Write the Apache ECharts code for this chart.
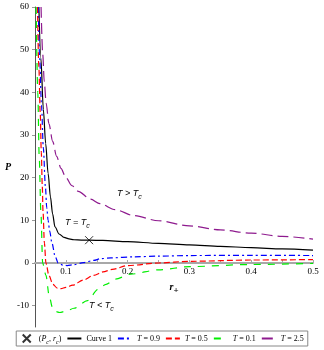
<!DOCTYPE html>
<html>

<head>
    <meta charset="utf-8"/>
    <style>
        html, body {
            height: 100%;
            margin: 0;
            padding: 0;
            background: #ffffff;
        }

        .container {
            width: 324px;
            height: 350px;
        }
    </style>
</head>

<body>
<div id="main" class="container"></div>

<script src="https://cdn.jsdelivr.net/npm/echarts@6/dist/echarts.min.js"></script>
<script type="text/javascript">
    // 刻度
    var xTicks = [0.1, 0.2, 0.3, 0.4, 0.5];
    var xTickMarks = [0.1, 0.15, 0.2, 0.25, 0.3, 0.35, 0.4, 0.45, 0.5];
    var yTicks = [-10, 0, 10, 20, 30, 40, 50, 60];

    // 临界点 (r_c, P_c)
    var critical = [[0.1376, 5.35]];

    // T = Tc (Curve 1)
    var curveTc = [[0.0563, 60], [0.0595, 48], [0.0635, 36], [0.0673, 28], [0.0712, 21], [0.0750, 15.5],
        [0.0785, 11.5], [0.0823, 8.5], [0.089, 6.8], [0.097, 6.0], [0.105, 5.65], [0.113, 5.45],
        [0.125, 5.38], [0.1376, 5.35], [0.16, 5.28], [0.2, 5.0], [0.25, 4.6], [0.3, 4.25],
        [0.35, 3.9], [0.4, 3.6], [0.45, 3.3], [0.5, 3.0]];

    // T = 0.9
    var curveT09 = [[0.0553, 60], [0.0575, 48], [0.0605, 37], [0.0635, 27], [0.0668, 18], [0.069, 13],
        [0.0712, 10], [0.0738, 7.5], [0.0774, 4.7], [0.0827, 1.5], [0.0875, 0], [0.095, -0.5],
        [0.102, -0.6], [0.113, -0.4], [0.128, 0.1], [0.145, 0.6], [0.156, 1.0], [0.173, 1.2],
        [0.21, 1.45], [0.25, 1.6], [0.3, 1.75], [0.4, 1.8], [0.5, 1.75]];

    // T = 0.5
    var curveT05 = [[0.054, 60], [0.0562, 46], [0.0585, 35], [0.0602, 26], [0.0618, 18], [0.063, 12],
        [0.0652, 4.7], [0.0677, 0], [0.0725, -2.9], [0.079, -5.0], [0.086, -5.9], [0.092, -6.0],
        [0.1, -5.7], [0.111, -5.2], [0.128, -4.0], [0.145, -2.9], [0.16, -2.1], [0.175, -1.5],
        [0.2, -0.6], [0.25, 0.0], [0.3, 0.4], [0.4, 0.7], [0.5, 0.8]];

    // T = 0.1
    var curveT01 = [[0.0518, 60], [0.0545, 40], [0.0568, 25], [0.0595, 12], [0.0624, 0], [0.0677, -2.9],
        [0.073, -7.7], [0.078, -10.3], [0.084, -11.4], [0.09, -11.6], [0.1, -11.3], [0.113, -10.6],
        [0.135, -8.8], [0.152, -6.2], [0.165, -5.0], [0.18, -3.8], [0.205, -2.6], [0.25, -1.6],
        [0.3, -0.85], [0.4, -0.35], [0.5, -0.1]];

    // T = 2.5
    var curveT25 = [[0.0598, 60], [0.0625, 49], [0.065, 42.5], [0.068, 37.5], [0.0725, 32.7], [0.0786, 28.5],
        [0.085, 25.0], [0.092, 22.2], [0.1, 20.0], [0.11, 18.1], [0.12, 16.8], [0.14, 14.95],
        [0.155, 13.9], [0.18, 12.5], [0.21, 11.1], [0.25, 9.9], [0.3, 8.7], [0.35, 7.75],
        [0.4, 7.0], [0.45, 6.25], [0.5, 5.6]];

    var serif = 'Liberation Serif';

    var legendText = {
        'crit': '({i|P}{s|c}, {i|r}{s|c})',
        'Curve 1': 'Curve 1',
        'T09': '{i|T} = 0.9',
        'T05': '{i|T} = 0.5',
        'T01': '{i|T} = 0.1',
        'T25': '{i|T} = 2.5'
    };

    var legendRich = {
        i: {fontFamily: serif, fontSize: 8, fontStyle: 'italic', color: '#000', lineHeight: 13},
        s: {fontFamily: serif, fontSize: 6, fontStyle: 'italic', color: '#000', lineHeight: 8, verticalAlign: 'bottom'}
    };

    var annRich = {
        i: {fontFamily: 'Liberation Sans', fontSize: 9, fontStyle: 'italic', fill: '#000', lineHeight: 14},
        s: {fontFamily: 'Liberation Sans', fontSize: 7, fontStyle: 'italic', fill: '#000', lineHeight: 8, verticalAlign: 'bottom'}
    };

    function lineSeries(name, data, color, dash) {
        return {
            name: name,
            type: 'line',
            data: data,
            symbol: 'none',
            showSymbol: false,
            smooth: 0.3,
            smoothMonotone: 'x',
            lineStyle: {color: color, width: 1.2, type: dash},
            itemStyle: {color: color},
            z: 3
        };
    }

    function lineLegend(name) {
        // 图例只画线，不画圆点
        return {name: name, itemStyle: {opacity: 0}};
    }

    function annText(left, top, text) {
        return {
            type: 'text',
            left: left,
            top: top,
            style: {
                text: text,
                rich: annRich,
                font: 'italic 9px "Liberation Sans"',
                fill: '#000'
            }
        };
    }

    var myChart = echarts.init(document.getElementById('main'));

    var option = {
        animation: false,
        grid: {left: 35, right: 11, top: 7, bottom: 23, containLabel: false, outerBoundsMode: 'none'},
        xAxis: {
            type: 'value',
            min: 0.05,
            max: 0.5,
            position: 'bottom',
            // x轴画在 P = 0 处
            offset: -64,
            name: '{r|r}{p|+}',
            nameLocation: 'middle',
            nameGap: 16,
            nameTextStyle: {
                rich: {
                    r: {fontFamily: serif, fontSize: 10, fontStyle: 'italic', fontWeight: 'bold', color: '#000', lineHeight: 16},
                    p: {fontFamily: serif, fontSize: 9, fontWeight: 'bold', color: '#000', lineHeight: 8, verticalAlign: 'bottom'}
                }
            },
            axisLine: {onZero: false, lineStyle: {color: '#a8a8a8', width: 2}},
            axisTick: {show: true, inside: true, length: 3, customValues: xTickMarks, lineStyle: {color: '#a8a8a8'}},
            axisLabel: {customValues: xTicks, margin: 4, fontFamily: serif, fontSize: 9, color: '#000'},
            splitLine: {show: false}
        },
        yAxis: {
            type: 'value',
            min: -15,
            max: 60,
            name: 'P',
            nameLocation: 'middle',
            nameRotate: 0,
            nameGap: 24,
            nameTextStyle: {fontFamily: serif, fontSize: 10, fontStyle: 'italic', fontWeight: 'bold', color: '#000'},
            axisLine: {show: true, lineStyle: {color: '#555', width: 1}},
            axisTick: {show: true, length: 3, customValues: yTicks, lineStyle: {color: '#999'}},
            axisLabel: {customValues: yTicks, margin: 6, fontFamily: serif, fontSize: 9, color: '#000'},
            splitLine: {show: false}
        },
        legend: {
            bottom: 4,
            left: 'center',
            data: ['crit', lineLegend('Curve 1'), lineLegend('T09'), lineLegend('T05'), lineLegend('T01'), lineLegend('T25')],
            formatter: function (name) {
                return legendText[name];
            },
            itemWidth: 14,
            itemHeight: 8,
            itemGap: 5,
            borderColor: '#888',
            borderWidth: 1,
            borderRadius: 0,
            padding: [1, 4],
            selectedMode: false,
            textStyle: {fontFamily: serif, fontSize: 8, color: '#000', rich: legendRich}
        },
        graphic: [
            annText(65, 218, '{i|T} = {i|T}{s|c}'),
            annText(117, 189, '{i|T} > {i|T}{s|c}'),
            annText(89, 301, '{i|T} < {i|T}{s|c}')
        ],
        series: [
            {
                name: 'crit',
                type: 'scatter',
                data: critical,
                symbol: 'path://M0,0L10,10M10,0L0,10',
                symbolSize: 8,
                itemStyle: {color: 'none', borderColor: '#000', borderWidth: 1},
                z: 5
            },
            lineSeries('Curve 1', curveTc, '#000000', 'solid'),
            lineSeries('T09', curveT09, '#0000ff', [6, 3, 2, 3]),
            lineSeries('T05', curveT05, '#ff0000', [6, 3]),
            lineSeries('T01', curveT01, '#00ee00', [7, 7]),
            lineSeries('T25', curveT25, '#8e1a8e', [11, 5])
        ]
    };

    myChart.setOption(option);
</script>
</body>

</html>
